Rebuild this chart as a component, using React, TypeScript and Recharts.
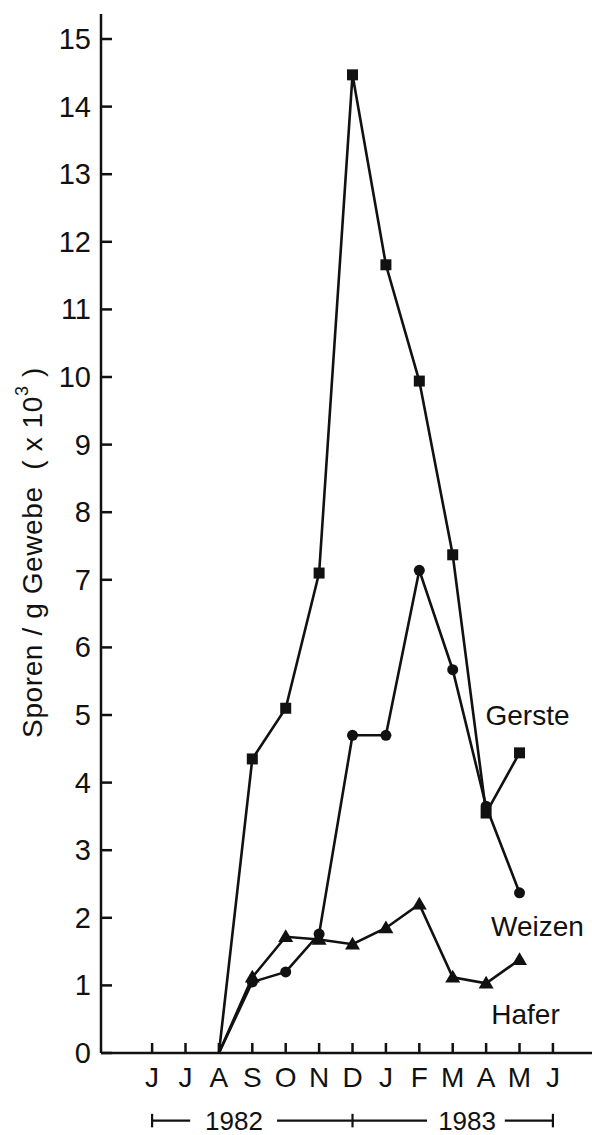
import React from 'react';
import { LineChart, Line, XAxis, YAxis, ReferenceLine, ReferenceDot } from 'recharts';

const months = ['J', 'J', 'A', 'S', 'O', 'N', 'D', 'J', 'F', 'M', 'A', 'M', 'J'];
const monthIndex = [0, 1, 2, 3, 4, 5, 6, 7, 8, 9, 10, 11, 12];
const gerste = [null, null, 0, 4.35, 5.1, 7.1, 14.47, 11.66, 9.94, 7.37, 3.55, 4.44, null];
const weizen = [null, null, 0, 1.05, 1.2, 1.76, 4.7, 4.7, 7.14, 5.67, 3.65, 2.37, null];
const hafer = [null, null, 0, 1.12, 1.72, 1.68, 1.61, 1.85, 2.2, 1.12, 1.03, 1.38, null];
const yTicks = [0, 1, 2, 3, 4, 5, 6, 7, 8, 9, 10, 11, 12, 13, 14, 15];
const seriesNames = ['Gerste', 'Weizen', 'Hafer'];
const yearLabels = ['1982', '1983'];

const FONT = "'Liberation Sans', Arial, sans-serif";
const INK = '#111';

const data = monthIndex.map((i) => ({
  idx: i,
  gerste: gerste[i],
  weizen: weizen[i],
  hafer: hafer[i],
}));

const YTick = (props: any) => {
  const { x, y, payload } = props;
  return (
    <g>
      <line x1={x} y1={y} x2={x + 11} y2={y} stroke={INK} strokeWidth={2.5} />
      <text x={x - 10} y={y} textAnchor="end" dominantBaseline="central" fontSize={29} fontFamily={FONT} fill={INK}>
        {payload.value}
      </text>
    </g>
  );
};

const XTick = (props: any) => {
  const { x, y, payload } = props;
  return (
    <g>
      <line x1={x} y1={y} x2={x} y2={y - 10} stroke={INK} strokeWidth={2.5} />
      <text x={x} y={y + 34} textAnchor="middle" fontSize={28} fontFamily={FONT} fill={INK}>
        {months[payload.value]}
      </text>
    </g>
  );
};

const YLabel = (props: any) => {
  const vb = props.viewBox || {};
  const cx = vb.x + 21;
  const cy = vb.y + vb.height / 2 + 19;
  return (
    <text
      x={cx}
      y={cy}
      transform={`rotate(-90 ${cx} ${cy})`}
      textAnchor="middle"
      dominantBaseline="central"
      fontSize={28}
      letterSpacing={0.6}
      fontFamily={FONT}
      fill={INK}
      style={{ whiteSpace: 'pre' }}
    >
      {'Sporen / g Gewebe  ( x 10'}
      <tspan dy={-10} fontSize={18}>3</tspan>
      <tspan dy={10}>{' )'}</tspan>
    </text>
  );
};

const makeDot = (shape: string) => (props: any) => {
  const { cx, cy, value, index } = props;
  if (value === null || value === undefined || value === 0 || cx == null || cy == null) {
    return <g key={`d-${shape}-${index}`} />;
  }
  if (shape === 'square') {
    return <rect key={`d-${shape}-${index}`} x={cx - 5.5} y={cy - 5.5} width={11} height={11} fill={INK} />;
  }
  if (shape === 'circle') {
    return <circle key={`d-${shape}-${index}`} cx={cx} cy={cy} r={5.5} fill={INK} />;
  }
  const s = 7.5;
  return (
    <polygon
      key={`d-${shape}-${index}`}
      points={`${cx},${cy - s} ${cx - s},${cy + s * 0.7} ${cx + s},${cy + s * 0.7}`}
      fill={INK}
    />
  );
};

const makeLabel = (name: string, dx: number, dy: number) => (props: any) => {
  const { x, y, index } = props;
  if (index !== 11) return <g key={`l-${name}-${index}`} />;
  return (
    <text key={`l-${name}-${index}`} x={x + dx} y={y + dy} textAnchor="middle" fontSize={28} fontFamily={FONT} fill={INK}>
      {name}
    </text>
  );
};

const YearText = (text: string) => (props: any) => {
  const vb = props.viewBox || {};
  return (
    <text x={vb.x} y={vb.y} textAnchor="middle" dominantBaseline="central" fontSize={26} fontFamily={FONT} fill={INK}>
      {text}
    </text>
  );
};

export default function App() {
  const yr = -1.0;
  const cap = 0.1;
  return (
    <div style={{ position: 'absolute', left: 0, top: 0, background: '#fff' }}>
      <LineChart width={592} height={1135} data={data} margin={{ top: 14, right: 0, bottom: 52, left: 11 }}>
        <XAxis
          dataKey="idx"
          type="number"
          domain={[-1.53, 13.17]}
          allowDataOverflow
          ticks={monthIndex}
          interval={0}
          height={30}
          tickSize={0}
          tickMargin={0}
          tickLine={false}
          axisLine={{ stroke: INK, strokeWidth: 2.5 }}
          tick={<XTick />}
        />
        <XAxis
          xAxisId="top"
          dataKey="idx"
          type="number"
          orientation="top"
          mirror
          domain={[-1.53, 13.17]}
          allowDataOverflow
          ticks={monthIndex}
          interval={0}
          height={0}
          tickSize={9}
          tick={false}
          tickLine={{ stroke: INK, strokeWidth: 2.5 }}
          axisLine={{ stroke: INK, strokeWidth: 2.5 }}
        />
        <YAxis
          type="number"
          domain={[0, 15.37]}
          allowDataOverflow
          ticks={yTicks}
          interval={0}
          width={90}
          tickSize={0}
          tickMargin={0}
          tickLine={false}
          axisLine={{ stroke: INK, strokeWidth: 2.5 }}
          tick={<YTick />}
          label={{ content: <YLabel /> }}
        />
        <Line
          dataKey="hafer"
          stroke={INK}
          strokeWidth={2.6}
          isAnimationActive={false}
          dot={makeDot('triangle')}
          activeDot={false}
          label={makeLabel(seriesNames[2], 6, 64)}
        />
        <Line
          dataKey="weizen"
          stroke={INK}
          strokeWidth={2.6}
          isAnimationActive={false}
          dot={makeDot('circle')}
          activeDot={false}
          label={makeLabel(seriesNames[1], 18, 43)}
        />
        <Line
          dataKey="gerste"
          stroke={INK}
          strokeWidth={2.6}
          isAnimationActive={false}
          dot={makeDot('square')}
          activeDot={false}
          label={makeLabel(seriesNames[0], 8, -28)}
        />
        <ReferenceLine ifOverflow="visible" stroke={INK} strokeWidth={2.2} segment={[{ x: 0, y: yr }, { x: 1.14, y: yr }]} />
        <ReferenceLine ifOverflow="visible" stroke={INK} strokeWidth={2.2} segment={[{ x: 3.74, y: yr }, { x: 8.23, y: yr }]} />
        <ReferenceLine ifOverflow="visible" stroke={INK} strokeWidth={2.2} segment={[{ x: 10.56, y: yr }, { x: 12, y: yr }]} />
        <ReferenceLine ifOverflow="visible" stroke={INK} strokeWidth={2.2} segment={[{ x: 0, y: yr - cap }, { x: 0, y: yr + cap }]} />
        <ReferenceLine ifOverflow="visible" stroke={INK} strokeWidth={2.2} segment={[{ x: 6, y: yr - cap }, { x: 6, y: yr + cap }]} />
        <ReferenceLine ifOverflow="visible" stroke={INK} strokeWidth={2.2} segment={[{ x: 12, y: yr - cap }, { x: 12, y: yr + cap }]} />
        <ReferenceDot ifOverflow="visible" x={2.45} y={yr} r={0} fill="none" stroke="none" label={{ content: YearText(yearLabels[0]) }} />
        <ReferenceDot ifOverflow="visible" x={9.43} y={yr} r={0} fill="none" stroke="none" label={{ content: YearText(yearLabels[1]) }} />
      </LineChart>
    </div>
  );
}
